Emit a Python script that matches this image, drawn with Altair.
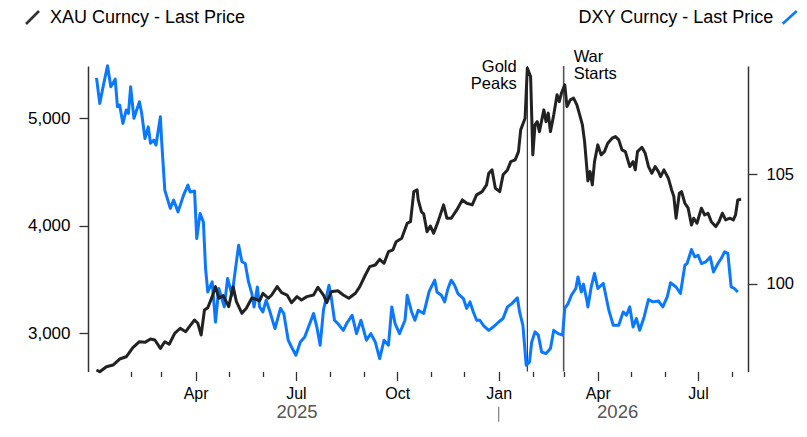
import altair as alt
import pandas as pd

FONT = "Liberation Sans"
BLUE = "#0a78ff"
BLACK = "#222222"

# ---- data (day offsets from 2025-01-01) ----
xau_day = [0,3,9,15,21,27,33,39,44,49,
           53,58,62,66,71,76,81,85,89,92,
           95,98,101,105,108,111,115,120,124,127,
           132,136,141,144,148,151,156,159,164,168,
           173,177,182,186,191,197,201,206,209,213,
           219,224,229,235,239,244,248,253,257,261,
           265,269,272,277,282,285,288,291,292,295,
           297,300,303,306,310,315,318,322,327,332,
           336,341,345,350,354,356,359,362,366,369,
           373,376,380,383,385,389,391,394,396,398,
           400,402,406,408,410,412,415,418,420,422,
           425,427,430,433,436,439,441,443,446,448,
           450,452,455,458,461,464,468,471,474,477,
           480,484,487,489,491,495,498,501,504,507,
           510,512,515,519,522,524,526,529,531,534,
           537,540,542,545,549,552,555,558,562,565,
           568,571,575,578,580,582,585]
xau_val = [2659,2643,2689,2705,2761,2782,2866,2922,2916,2947,
           2938,2860,2922,2898,3000,3047,3015,3071,3124,3093,
           2984,3217,3238,3341,3434,3326,3350,3248,3434,3294,
           3186,3233,3328,3319,3301,3372,3326,3356,3434,3378,
           3356,3285,3341,3310,3341,3356,3428,3356,3285,3387,
           3396,3356,3326,3372,3434,3542,3620,3635,3688,3651,
           3759,3775,3852,3884,4023,4038,4317,4333,4240,4128,
           4110,3945,3998,3930,4038,4194,4070,4070,4147,4240,
           4209,4194,4287,4317,4380,4488,4519,4349,4317,4473,
           4519,4596,4612,4689,4891,5000,5465,5387,4659,4938,
           4968,4875,5077,4968,5047,4875,5031,5217,5154,5233,
           5310,5108,5170,5186,5124,5015,4938,4782,4417,4503,
           4380,4596,4752,4659,4689,4767,4814,4829,4798,4705,
           4689,4550,4596,4519,4689,4730,4674,4550,4488,4550,
           4503,4457,4519,4442,4333,4271,4070,4302,4317,4209,
           4163,4007,4070,4023,4163,4100,4116,4038,3992,4038,
           4116,4054,4070,4054,4100,4240,4247]

dxy_day = [0,3,6,10,13,17,19,21,24,27,
           29,31,34,39,41,44,47,49,52,54,
           58,59,62,67,70,74,79,83,85,89,
           91,94,97,99,101,105,108,111,116,119,
           123,126,129,132,135,138,141,143,146,148,
           151,154,157,162,167,170,174,177,181,185,
           189,193,197,200,203,206,211,213,216,219,
           224,227,232,236,240,245,249,253,257,261,
           265,268,271,275,280,282,286,289,292,297,
           302,307,309,313,316,319,322,325,328,333,
           336,339,342,345,348,351,356,360,365,369,
           373,377,380,382,384,387,390,393,395,398,
           401,404,408,412,415,419,423,425,428,431,
           435,437,440,442,445,446,449,452,455,460,
           465,469,474,478,481,484,487,490,493,497,
           501,505,510,514,518,521,526,530,534,536,
           540,543,546,549,553,557,560,564,567,570,
           573,576,579,582]
dxy_val = [109.41,108.24,109.00,109.96,109.00,109.35,108.09,108.17,107.33,107.94,
           107.79,109.00,107.56,108.32,107.79,106.64,107.17,106.42,106.57,106.34,
           107.63,106.64,104.28,103.45,103.83,103.29,104.05,104.51,104.20,104.24,
           102.07,103.22,102.83,100.70,99.63,100.09,98.26,99.79,98.95,100.25,
           99.48,100.63,101.77,101.01,100.93,100.09,99.56,98.95,99.86,98.95,
           98.72,99.26,98.80,97.96,98.88,98.65,97.43,97.12,96.74,97.35,
           97.58,98.11,98.65,98.03,97.20,98.80,99.94,99.41,98.34,98.19,
           97.88,98.19,98.57,97.73,98.34,97.43,97.73,97.35,96.59,97.43,
           97.20,98.95,98.19,97.73,98.34,99.48,98.72,98.34,98.80,98.65,
           99.67,100.17,99.63,99.48,99.18,99.79,100.17,99.94,99.56,99.33,
           98.88,99.18,98.72,98.34,98.34,98.11,97.88,98.03,98.26,98.42,
           98.95,99.10,99.26,99.36,98.72,98.11,96.28,96.44,97.35,97.81,
           97.66,96.89,96.82,97.05,97.88,97.73,97.66,98.88,99.10,99.48,
           99.79,100.32,99.63,99.99,99.26,98.95,99.86,100.48,99.79,100.02,
           98.80,98.11,98.11,98.72,98.57,98.95,98.03,98.42,97.88,98.49,
           99.29,99.18,99.22,98.95,99.41,100.05,99.86,99.56,100.85,100.93,
           101.57,101.23,101.31,100.93,101.01,101.23,100.55,100.93,101.16,101.46,
           101.39,99.86,99.79,99.63]

event_day = [391, 424]
event_text = ["Gold\nPeaks", "War\nStarts"]
year_day = [182, 473]
year_text = ["2025", "2026"]
sep_day = [365]
x_domain_day = [-7.7, 591.3]
xau_ticks = [3000, 4000, 5000]
dxy_ticks = [100, 105]
xau_domain = [2645, 5485]
dxy_domain = [96.0, 109.95]
legend_left = "XAU Curncy - Last Price"
legend_right = "DXY Curncy - Last Price"

BASE = pd.Timestamp("2025-01-01")


def iso(d):
    return (BASE + pd.Timedelta(days=d)).strftime("%Y-%m-%dT%H:%M:%S")


def dt(d):
    t = BASE + pd.Timedelta(days=d)
    return alt.DateTime(year=t.year, month=t.month, date=t.day, hours=t.hour, minutes=t.minute)


xau = pd.DataFrame({"date": [iso(d) for d in xau_day], "xau": xau_val})
dxy = pd.DataFrame({"date": [iso(d) for d in dxy_day], "dxy": dxy_val})
gold_ev = pd.DataFrame({"date": [iso(event_day[0])], "label": [event_text[0]]})
war_ev = pd.DataFrame({"date": [iso(event_day[1])], "label": [event_text[1]]})
years = pd.DataFrame({"date": [iso(d) for d in year_day], "label": year_text})
sep = pd.DataFrame({"date": [iso(d) for d in sep_day]})
one = pd.DataFrame({"k": [0]})

W, H = 660, 305.5

tick_vals = [alt.DateTime(year=2025, month=m, date=1) for m in range(2, 13)] + \
            [alt.DateTime(year=2026, month=m, date=1) for m in range(1, 9)]

x_axis = alt.Axis(
    values=tick_vals,
    labelExpr="month(datum.value) % 3 == 0 ? timeFormat(datum.value, '%b') : ''",
    tickSize={"condition": {"test": "month(datum.value) % 3 == 0", "value": 9}, "value": 5},
    tickColor="#333", tickWidth=1.3, domain=False, grid=False,
    labelFont=FONT, labelFontSize=16, labelColor="#000", labelPadding=4.5,
    labelOverlap=False, labelFlush=False, title=None,
)
xenc = alt.X("date:T", scale=alt.Scale(domain=[dt(x_domain_day[0]), dt(x_domain_day[1])]), axis=x_axis)


def yaxis(vals, orient, fs):
    return alt.Axis(values=vals, orient=orient, format=",d", grid=False, domain=True,
                    domainColor="#333", domainWidth=1.5, ticks=True, tickSize=9,
                    tickWidth=1.3, tickColor="#333", labelFont=FONT, labelFontSize=fs,
                    labelColor="#000", labelPadding=9, title=None)


gold_rule = alt.Chart(gold_ev).mark_rule(color="#111", strokeWidth=1).encode(
    x=xenc, y=alt.value(0), y2=alt.value(H))
war_rule = alt.Chart(war_ev).mark_rule(color="#555", strokeWidth=1.6).encode(
    x=xenc, y=alt.value(0), y2=alt.value(H))

blue_line = alt.Chart(dxy).mark_line(color=BLUE, strokeWidth=3, strokeJoin="round").encode(
    x=xenc,
    y=alt.Y("dxy:Q", scale=alt.Scale(domain=dxy_domain, zero=False, nice=False),
            axis=yaxis(dxy_ticks, "right", 16.5)))
black_line = alt.Chart(xau).mark_line(color=BLACK, strokeWidth=3, strokeJoin="round").encode(
    x=xenc,
    y=alt.Y("xau:Q", scale=alt.Scale(domain=xau_domain, zero=False, nice=False),
            axis=yaxis(xau_ticks, "left", 17)))

gold_txt = alt.Chart(gold_ev).mark_text(
    align="right", baseline="alphabetic", dx=-10.6, lineBreak="\n", lineHeight=17,
    font=FONT, fontSize=16.5, color="#000").encode(x=xenc, y=alt.value(6.3), text="label:N")
war_txt = alt.Chart(war_ev).mark_text(
    align="left", baseline="alphabetic", dx=10, lineBreak="\n", lineHeight=17.5,
    font=FONT, fontSize=16.5, color="#000").encode(x=xenc, y=alt.value(-4.3), text="label:N")

year_txt = alt.Chart(years).mark_text(
    align="center", baseline="alphabetic", font=FONT, fontSize=18.5, color="#555").encode(
    x=xenc, y=alt.value(352.3), text="label:N")
sep_rule = alt.Chart(sep).mark_rule(color="#888", strokeWidth=1.3).encode(
    x=xenc, y=alt.value(340.7), y2=alt.value(355.7))

leg_l_icon = alt.Chart(one).mark_rule(color="#333", strokeWidth=2.6).encode(
    x=alt.value(-62), x2=alt.value(-49), y=alt.value(-42), y2=alt.value(-55))
leg_l_txt = alt.Chart(one).mark_text(
    align="left", baseline="alphabetic", font=FONT, fontSize=18, color="#000").encode(
    x=alt.value(-38), y=alt.value(-42.8), text=alt.value(legend_left))
leg_r_txt = alt.Chart(one).mark_text(
    align="right", baseline="alphabetic", font=FONT, fontSize=18, color="#000").encode(
    x=alt.value(685.3), y=alt.value(-42.8), text=alt.value(legend_right))
leg_r_icon = alt.Chart(one).mark_rule(color=BLUE, strokeWidth=2.6).encode(
    x=alt.value(694.7), x2=alt.value(708.7), y=alt.value(-42.3), y2=alt.value(-55))

chart = alt.layer(
    gold_rule, war_rule, blue_line, black_line, gold_txt, war_txt, year_txt, sep_rule,
    leg_l_icon, leg_l_txt, leg_r_txt, leg_r_icon,
).resolve_scale(y="independent").properties(
    width=W, height=H,
    autosize=alt.AutoSizeParams(type="none"),
    padding={"left": 80, "top": 58, "right": 51, "bottom": 52},
).configure_view(stroke="transparent")

chart.save("out.html", embed_options={"renderer": "svg", "actions": False})
